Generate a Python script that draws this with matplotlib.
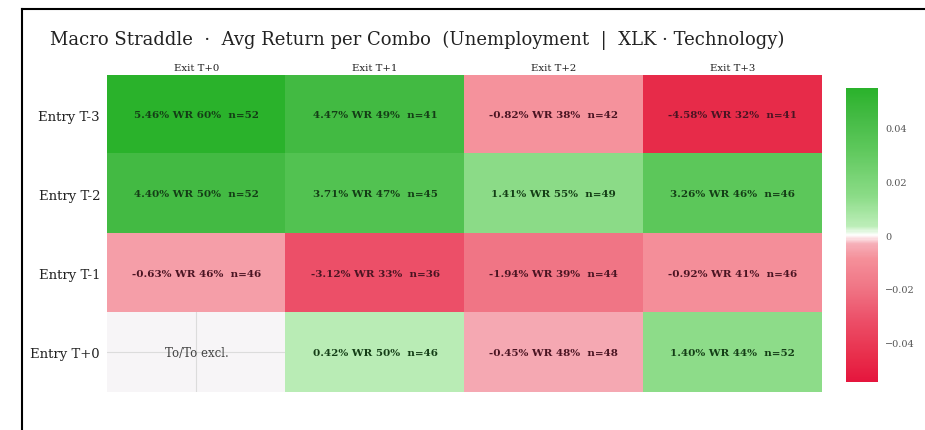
import numpy as np
import matplotlib
matplotlib.use("Agg")
import matplotlib.pyplot as plt
from matplotlib.colors import LinearSegmentedColormap, Normalize
from matplotlib.lines import Line2D

title = "Macro Straddle  ·  Avg Return per Combo  (Unemployment  |  XLK · Technology)"
entries = ["Entry T-3", "Entry T-2", "Entry T-1", "Entry T+0"]
exits = ["Exit T+0", "Exit T+1", "Exit T+2", "Exit T+3"]

avg_ret = [
    [0.0546, 0.0447, -0.0082, -0.0458],
    [0.0440, 0.0371, 0.0141, 0.0326],
    [-0.0063, -0.0312, -0.0194, -0.0092],
    [np.nan, 0.0042, -0.0045, 0.0140],
]
win_rate = [
    [60, 49, 38, 32],
    [50, 47, 55, 46],
    [46, 33, 39, 41],
    [None, 50, 48, 44],
]
counts = [
    [52, 41, 42, 41],
    [52, 45, 49, 46],
    [46, 36, 44, 46],
    [None, 46, 48, 52],
]
excluded_label = "To/To excl."
cbar_ticks = [0.04, 0.02, 0, -0.02, -0.04]

serif = ["DejaVu Serif"]

cmap = LinearSegmentedColormap.from_list("rg", [
    (0.00, "#e5153d"),
    (0.08, "#e82c4a"),
    (0.21, "#ec4f68"),
    (0.32, "#f07585"),
    (0.42, "#f5909a"),
    (0.47, "#f6b0b9"),
    (0.50, "#ffffff"),
    (0.53, "#bdeeb9"),
    (0.63, "#8cdc88"),
    (0.80, "#5cc75a"),
    (0.90, "#45bb45"),
    (1.00, "#2ab22b"),
])

data = np.array(avg_ret, dtype=float)
vmax = np.nanmax(np.abs(data))
norm = Normalize(vmin=-vmax, vmax=vmax)

fig = plt.figure(figsize=(9.25, 4.31), dpi=100)
fig.patch.set_facecolor("white")

ax = fig.add_axes([0.1157, 0.0882, 0.7729, 0.7355])
ax.set_facecolor("#f7f5f7")
nr, nc = data.shape
im = ax.imshow(np.ma.masked_invalid(data), cmap=cmap, norm=norm, aspect="auto",
               extent=(-0.5, nc - 0.5, nr - 0.5, -0.5), interpolation="nearest", zorder=1)
ax.set_xlim(-0.5, nc - 0.5)
ax.set_ylim(nr - 0.5, -0.5)
ax.set_axisbelow(True)
ax.grid(True, color="#dcdcdc", linewidth=0.8, zorder=0.5)
ax.set_xticks(range(nc))
ax.set_xticklabels(exits, fontsize=7.3, family=serif, color="#222222")
ax.set_yticks(range(nr))
ax.set_yticklabels(entries, fontsize=9.5, family=serif, color="#222222")
ax.xaxis.tick_top()
ax.tick_params(axis="x", length=0, pad=2)
ax.tick_params(axis="y", length=0, pad=5)
for s in ax.spines.values():
    s.set_visible(False)

for i in range(nr):
    for j in range(nc):
        v = data[i, j]
        if np.isnan(v):
            ax.text(j, i, excluded_label, ha="center", va="center", fontsize=8.5,
                    family=serif, color="#444444", zorder=3)
            continue
        txt = f"{v*100:.2f}% WR {win_rate[i][j]}%  n={counts[i][j]}"
        col = "#143d16" if v >= 0 else "#4a1422"
        ax.text(j, i, txt, ha="center", va="center", fontsize=7.5, family=serif,
                color=col, fontweight="bold", zorder=3)

cax = fig.add_axes([0.9146, 0.1114, 0.0346, 0.682])
cb = fig.colorbar(im, cax=cax)
cb.outline.set_visible(False)
cb.set_ticks(cbar_ticks)
cb.set_ticklabels([("−" if t < 0 else "") + (f"{abs(t):.2f}" if t != 0 else "0") for t in cbar_ticks])
cax.tick_params(length=0, pad=5, labelsize=7, colors="#555555")
for lab in cax.get_yticklabels():
    lab.set_family(serif)

fig.text(0.054, 0.907, title, ha="left", va="center", fontsize=13, family=serif, color="#222222")

fig.add_artist(Line2D([0.0238, 0.0238], [0.0, 0.977], transform=fig.transFigure, color="black", linewidth=1.5))
fig.add_artist(Line2D([0.0238, 1.0], [0.977, 0.977], transform=fig.transFigure, color="black", linewidth=1.5))

fig.savefig("out.png", dpi=100)
